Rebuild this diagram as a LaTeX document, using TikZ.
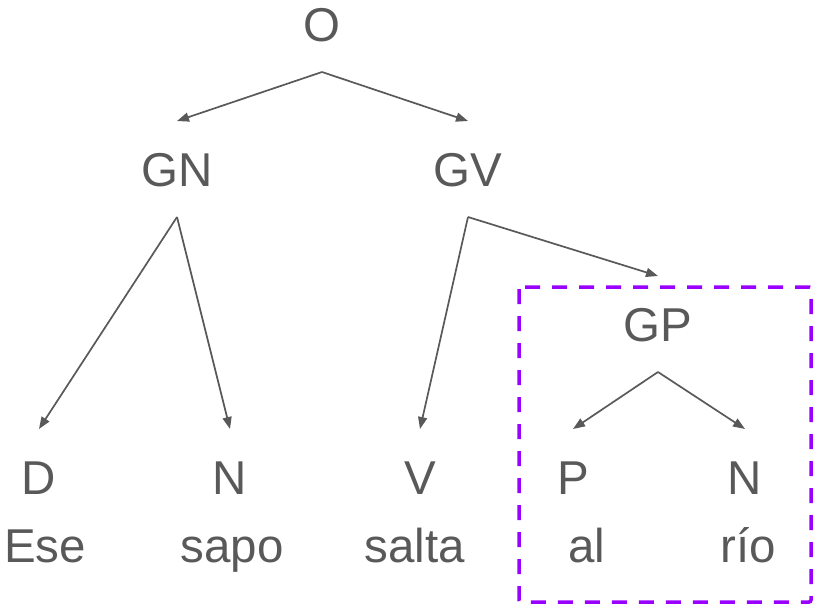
\documentclass[tikz,border=0pt]{standalone}
\usepackage{fontspec}
\setmainfont{Liberation Sans}
\usetikzlibrary{arrows.meta}
\definecolor{ink}{HTML}{595959}
\definecolor{violet}{HTML}{9900FF}
\begin{document}
\begin{tikzpicture}[x=1pt,y=-1pt,
  cat/.style={text=ink,font=\fontsize{47.5}{50}\selectfont,
    text height=34pt,text depth=0pt,inner xsep=2pt,inner ysep=31pt,outer sep=0pt},
  word/.style={text=ink,font=\fontsize{47.5}{50}\selectfont,anchor=base,inner sep=0pt},
  branch/.style={draw=ink,line width=1.7pt,-{Triangle[length=12pt,width=9pt]}},
  frame/.style={draw=violet,line width=3.5pt,dash pattern=on 15pt off 12pt,rounded corners=2pt}]
\useasboundingbox (0,0) rectangle (815,608);
% highlighted prepositional phrase
\draw[frame] (519,287) rectangle (811,602);
% categories
\node[cat] (O)  at (322,24)  {O};
\node[cat] (GN) at (177,169) {GN};
\node[cat] (GV) at (468,169) {GV};
\node[cat] (GP) at (658,324) {GP};
\node[cat] (D)  at (39,477)  {D};
\node[cat] (N1) at (230,477) {N};
\node[cat] (V)  at (420,477) {V};
\node[cat] (P)  at (573,477) {P};
\node[cat] (N2) at (745,477) {N};
% words
\node[word] (w1) at (45,562)  {Ese};
\node[word] (w2) at (232,562) {sapo};
\node[word] (w3) at (415,562) {salta};
\node[word] (w4) at (587,562) {al};
\node[word] (w5) at (748,562) {río};
% branches
\draw[branch] (O.south) -- (GN.north);
\draw[branch] (O.south) -- (GV.north);
\draw[branch] (GN.south) -- (D.north);
\draw[branch] (GN.south) -- (N1.north);
\draw[branch] (GV.south) -- (V.north);
\draw[branch] (GV.south) -- (GP.north);
\draw[branch] (GP.south) -- (P.north);
\draw[branch] (GP.south) -- (N2.north);
\end{tikzpicture}
\end{document}
